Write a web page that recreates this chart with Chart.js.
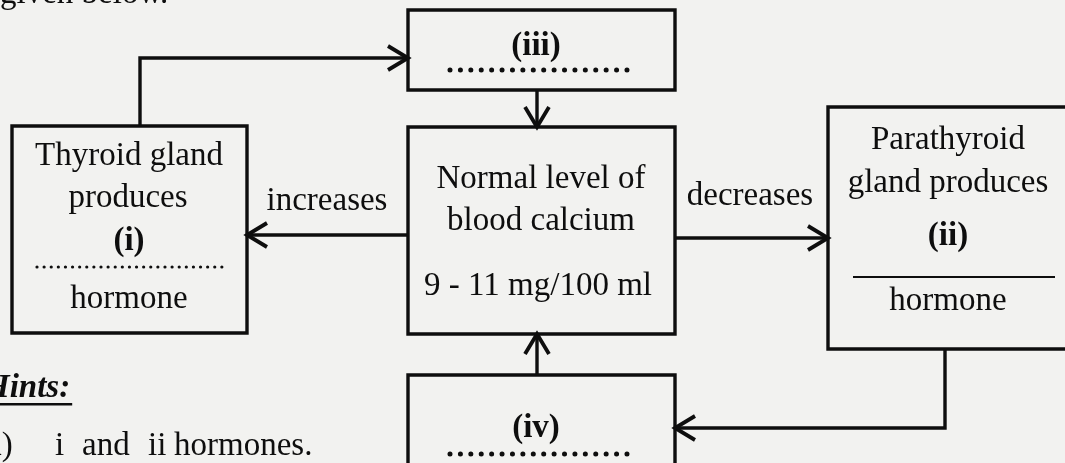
<!DOCTYPE html>
<html>
<head>
<meta charset="utf-8">
<script src="https://cdn.jsdelivr.net/npm/chart.js@4.4.1/dist/chart.umd.min.js"></script>
<style>
  html, body { margin: 0; padding: 0; background: #f2f2f0; overflow: hidden; }
  canvas { display: block; }
</style>
</head>
<body>
<canvas id="c" width="1065" height="463"></canvas>
<script>
// ---- Diagram content (data units = the 1065 x 463 drawing space) ----
// Boxes: Thyroid, (iii), Central, Parathyroid, (iv)
const boxNames  = ['thyroid', 'iii', 'central', 'parathyroid', 'iv'];
const boxLeft   = [12, 408, 408, 828, 408];
const boxTop    = [126, 10, 127, 107, 375];
const boxRight  = [247, 675, 675, 1075, 675];
const boxBottom = [333, 90, 334, 349, 480];

// Connectors: polyline points, arrow at the last point
const connectors = [
  [[140, 126], [140, 58], [408, 58]],     // thyroid -> (iii)
  [[537, 90], [537, 127]],                // (iii) -> central
  [[408, 235], [247, 235]],               // central -> thyroid (increases)
  [[675, 238], [828, 238]],               // central -> parathyroid (decreases)
  [[945, 349], [945, 428], [675, 428]],   // parathyroid -> (iv)
  [[537, 375], [537, 334]]                // (iv) -> central
];

// Text lines
const textLines  = ['Thyroid gland', 'produces', '(i)', 'hormone',
                    'increases',
                    'Normal level of', 'blood calcium', '9 - 11 mg/100 ml',
                    'decreases',
                    'Parathyroid', 'gland produces', '(ii)', 'hormone',
                    '(iii)', '(iv)',
                    'given below.', 'Hints:', 'a)', 'i', 'and', 'ii', 'hormones.'];
const textX      = [129, 128, 129, 129,
                    327,
                    541, 541, 538,
                    750,
                    948, 948, 948, 948,
                    536, 536,
                    0, -16, -13, 55, 82, 148, 174];
const textY      = [165, 207, 250, 308,
                    210,
                    188, 230, 295,
                    205,
                    149, 192, 245, 310,
                    55, 437,
                    3, 397, 455, 455, 455, 455, 455];
const textAlign  = ['c','c','c','c','c','c','c','c','c','c','c','c','c','c','c',
                    'l','l','l','l','l','l','l'];
const textStyle  = ['n','n','b','n','n','n','n','n','n','n','n','b','n','b','b',
                    'n','bi','n','n','n','n','n'];

// Blank fill-in lines: [x1, x2, y, kind]
const blankX1   = [37, 450, 450, 853];
const blankX2   = [228, 628, 628, 1055];
const blankY    = [267, 70, 454, 277];
const blankKind = ['dots-small', 'dots', 'dots', 'solid'];

// ---- Build datasets ----
const INK = '#0e0e0e';
const LW = 3.4;
const datasets = [];
for (let i = 0; i < boxNames.length; i++) {
  datasets.push({
    label: boxNames[i],
    data: [
      {x: boxLeft[i], y: boxTop[i]}, {x: boxRight[i], y: boxTop[i]},
      {x: boxRight[i], y: boxBottom[i]}, {x: boxLeft[i], y: boxBottom[i]},
      {x: boxLeft[i], y: boxTop[i]}
    ],
    showLine: true, borderColor: INK, borderWidth: LW, pointRadius: 0,
    borderJoinStyle: 'miter', borderCapStyle: 'square', tension: 0, fill: false
  });
}
const AH_LEN = 20, AH_HALF = 12;
connectors.forEach((pts, k) => {
  datasets.push({
    label: 'conn' + k,
    data: pts.map(p => ({x: p[0], y: p[1]})),
    showLine: true, borderColor: INK, borderWidth: LW, pointRadius: 0,
    borderJoinStyle: 'miter', tension: 0, fill: false
  });
  const tip = pts[pts.length - 1], prev = pts[pts.length - 2];
  const dx = tip[0] - prev[0], dy = tip[1] - prev[1];
  const len = Math.hypot(dx, dy), ux = dx / len, uy = dy / len;
  const bx = tip[0] - ux * AH_LEN, by = tip[1] - uy * AH_LEN;
  datasets.push({
    label: 'head' + k,
    data: [
      {x: bx - uy * AH_HALF, y: by + ux * AH_HALF},
      {x: tip[0], y: tip[1]},
      {x: bx + uy * AH_HALF, y: by - ux * AH_HALF}
    ],
    showLine: true, borderColor: INK, borderWidth: 3.8, pointRadius: 0,
    borderJoinStyle: 'miter', borderCapStyle: 'butt', tension: 0, fill: false
  });
});

// ---- Plugins: background, text and blank lines through the scales ----
const bgPlugin = {
  id: 'bg',
  beforeDraw(chart) {
    const ctx = chart.ctx;
    ctx.save();
    ctx.fillStyle = '#f2f2f0';
    ctx.fillRect(0, 0, chart.width, chart.height);
    ctx.restore();
  }
};
const textPlugin = {
  id: 'texts',
  afterDatasetsDraw(chart) {
    const ctx = chart.ctx, xs = chart.scales.x, ys = chart.scales.y;
    ctx.save();
    ctx.fillStyle = INK;
    ctx.textBaseline = 'alphabetic';
    for (let i = 0; i < textLines.length; i++) {
      const st = textStyle[i];
      const w = st.includes('b') ? 'bold ' : '';
      const it = st.includes('i') ? 'italic ' : '';
      ctx.font = it + w + '33px "Liberation Serif", "Times New Roman", serif';
      ctx.textAlign = textAlign[i] === 'c' ? 'center' : 'left';
      const px = xs.getPixelForValue(textX[i]), py = ys.getPixelForValue(textY[i]);
      ctx.fillText(textLines[i], px, py);
      if (textLines[i] === 'Hints:') {
        const tw = ctx.measureText(textLines[i]).width;
        ctx.fillRect(px, py + 6, tw + 2, 2.5);
      }
    }
    // blanks
    for (let i = 0; i < blankX1.length; i++) {
      const x1 = xs.getPixelForValue(blankX1[i]), x2 = xs.getPixelForValue(blankX2[i]);
      const y = ys.getPixelForValue(blankY[i]);
      ctx.beginPath();
      ctx.strokeStyle = INK;
      if (blankKind[i] === 'solid') {
        ctx.setLineDash([]);
        ctx.lineWidth = 2;
        ctx.lineCap = 'butt';
      } else if (blankKind[i] === 'dots') {
        ctx.setLineDash([0.01, 10.4]);
        ctx.lineWidth = 5;
        ctx.lineCap = 'round';
      } else {
        ctx.setLineDash([0.01, 7.1]);
        ctx.lineWidth = 3.2;
        ctx.lineCap = 'round';
      }
      ctx.moveTo(x1, y);
      ctx.lineTo(x2, y);
      ctx.stroke();
    }
    ctx.restore();
  }
};

new Chart(document.getElementById('c'), {
  type: 'scatter',
  data: { datasets },
  options: {
    responsive: false,
    animation: false,
    devicePixelRatio: 1,
    layout: { padding: 0 },
    plugins: { legend: { display: false }, tooltip: { enabled: false } },
    events: [],
    scales: {
      x: { type: 'linear', min: 0, max: 1065, display: false },
      y: { type: 'linear', min: 0, max: 463, reverse: true, display: false }
    }
  },
  plugins: [bgPlugin, textPlugin]
});
</script>
</body>
</html>
